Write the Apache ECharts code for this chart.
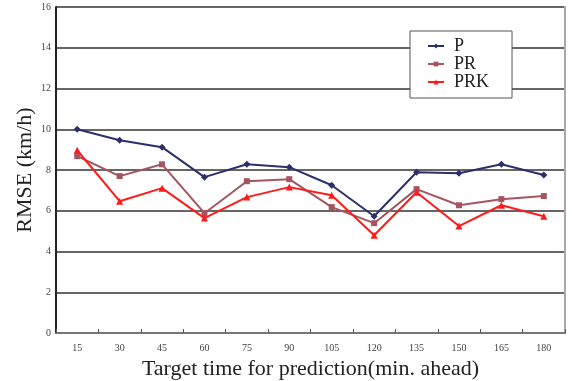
<!DOCTYPE html>
<html><head><meta charset="utf-8">
<script src="https://cdn.jsdelivr.net/npm/echarts@6/dist/echarts.min.js"></script>
<style>html,body{margin:0;padding:0;background:#fff}#c{width:572px;height:381px}</style>
</head><body><div id="c"></div>
<script>
const categories = ['15','30','45','60','75','90','105','120','135','150','165','180'];
const P   = [10.0, 9.46, 9.12, 7.65, 8.28, 8.14, 7.25, 5.73, 7.89, 7.84, 8.28, 7.75];
const PR  = [8.68, 7.70, 8.28, 5.88, 7.45, 7.55, 6.18, 5.39, 7.06, 6.27, 6.57, 6.72];
const PRK = [8.97, 6.47, 7.11, 5.64, 6.67, 7.16, 6.76, 4.80, 6.91, 5.25, 6.27, 5.73];
const seriesNames = ['P','PR','PRK'];

const chart = echarts.init(document.getElementById('c'));
const font = '"Liberation Serif", "DejaVu Serif", serif';
function mk(name, data, color, symbol, size){
  return {name, type:'line', data, symbol, symbolSize:size, showSymbol:true,
    lineStyle:{color, width:2}, itemStyle:{color}, emphasis:{disabled:true}};
}
chart.setOption({
  animation:false,
  grid:{left:56, right:7, top:7, bottom:48, containLabel:false, outerBoundsMode:'none'},
  legend:{orient:'vertical', left:410, top:31, padding:[6,23,7,17],
    borderColor:'#555', borderWidth:1, backgroundColor:'#fff', itemGap:0,
    itemWidth:16, itemHeight:6,
    textStyle:{fontFamily:font, fontSize:18, lineHeight:16, color:'#222', padding:[0,0,0,5]},
    data:seriesNames},
  xAxis:{type:'category', data:categories, boundaryGap:true,
    name:'Target time for prediction(min. ahead)', nameLocation:'middle', nameGap:25,
    nameTextStyle:{fontFamily:font, fontSize:22, color:'#222'},
    axisLine:{lineStyle:{color:'#777', width:2}},
    axisTick:{show:true, inside:true, length:4, lineStyle:{color:'#555'}},
    axisLabel:{fontFamily:font, fontSize:10, color:'#444', margin:10}},
  yAxis:[{type:'value', min:0, max:16, interval:2,
    name:'RMSE (km/h)', nameLocation:'middle', nameGap:20, nameMoveOverlap:false,
    nameTextStyle:{fontFamily:font, fontSize:22, color:'#222'},
    axisLine:{show:true, lineStyle:{color:'#222', width:2}},
    axisTick:{show:false},
    axisLabel:{fontFamily:font, fontSize:10, color:'#444', margin:5},
    splitLine:{show:true, lineStyle:{color:'#333', width:1.5}}},
    {type:'value', min:0, max:16, position:'right', axisLine:{show:true, lineStyle:{color:'#b0a8a8', width:2}},
     axisTick:{show:false}, axisLabel:{show:false}, splitLine:{show:false}}],
  series:[
    mk('P', P, '#2d2f6b', 'diamond', 7),
    mk('PR', PR, '#a4555f', 'rect', 6),
    mk('PRK', PRK, '#ff1a1a', 'triangle', 7)
  ]
});
</script></body></html>
